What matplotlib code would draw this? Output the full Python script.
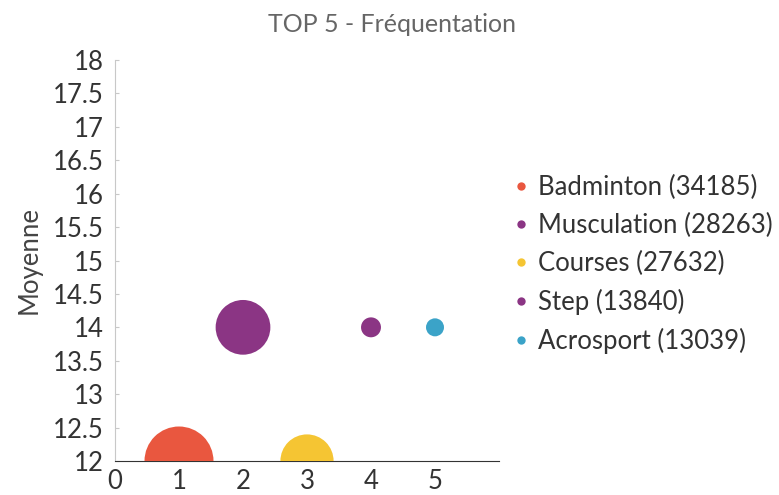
import matplotlib
matplotlib.use("Agg")
import matplotlib.pyplot as plt
from matplotlib.lines import Line2D

plt.rcParams['font.family'] = ['Lato', 'DejaVu Sans']

# données
sports = ["Badminton", "Musculation", "Courses", "Step", "Acrosport"]
frequentation = [34185, 28263, 27632, 13840, 13039]
rang = [1, 2, 3, 4, 5]
moyenne = [12, 14, 12, 14, 14]
couleurs = ["#e9573f", "#8b3584", "#f5c533", "#8b3584", "#3ba3c8"]

# taille des bulles : diamètre en px, linéaire entre zmin et zmax
dmin, dmax = 18, 69
zmin, zmax = min(frequentation), max(frequentation)
tailles = []
for z in frequentation:
    d_px = dmin + (z - zmin) / (zmax - zmin) * (dmax - dmin)
    d_pt = d_px * 72 / 100
    tailles.append(d_pt ** 2)

fig = plt.figure(figsize=(7.79, 4.95), dpi=100)
ax = fig.add_axes([115 / 779, 34 / 495, 384 / 779, 401 / 495])

ax.scatter(rang, moyenne, s=tailles, c=couleurs, linewidths=0, zorder=3)

ax.set_xlim(0, 6)
ax.set_ylim(12, 18)
ax.set_xticks([0, 1, 2, 3, 4, 5])
ax.set_yticks([12 + 0.5 * i for i in range(13)])
ax.set_yticklabels([f"{12 + 0.5 * i:g}" for i in range(13)])

ax.spines['top'].set_visible(False)
ax.spines['right'].set_visible(False)
ax.spines['left'].set_color('#c8c8c8')
ax.spines['bottom'].set_color('#333333')
ax.tick_params(axis='y', direction='in', length=3, color='#c8c8c8',
               labelsize=18.5, labelcolor='#333333', pad=8)
ax.tick_params(axis='x', length=0, labelsize=18.5, labelcolor='#333333', pad=6)

ax.set_ylabel("Moyenne", fontsize=18.5, color='#444444', labelpad=8)

fig.text(392 / 779, 1 - 24 / 495, "TOP 5 - Fréquentation", ha='center', va='center',
         fontsize=18, color='#666666')

# légende
handles = [Line2D([], [], marker='o', linestyle='', markersize=6,
                  markerfacecolor=c, markeredgewidth=0) for c in couleurs]
labels = [f"{s} ({f})" for s, f in zip(sports, frequentation)]
ax.legend(handles, labels, loc='upper left', bbox_to_anchor=(502 / 779, 1 - 162 / 495),
          bbox_transform=fig.transFigure, frameon=False, fontsize=18.5,
          labelcolor='#333333', handlelength=0.5, handletextpad=0.4,
          labelspacing=0.5, borderpad=0)

fig.savefig("out.png", dpi=100)
